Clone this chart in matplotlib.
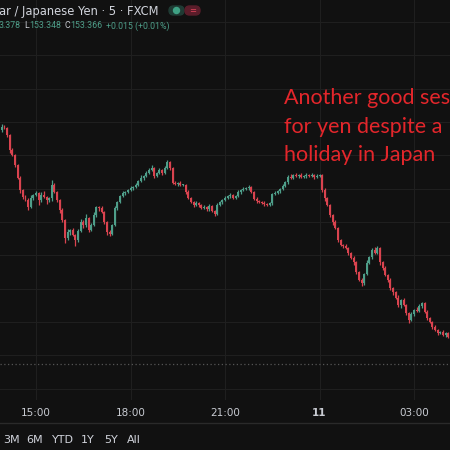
import matplotlib
matplotlib.use("Agg")
import matplotlib.pyplot as plt
from matplotlib.patches import FancyBboxPatch, Circle

# 5-minute USD/JPY closes (bar 0 is the first visible bar, 15:00 is bar 13)
closes = [
    153.985, 153.982, 153.961, 153.916, 153.901, 153.871, 153.832, 153.796, 153.775, 153.766,
    153.745, 153.772, 153.781, 153.787, 153.766, 153.781, 153.775, 153.766, 153.772, 153.811,
    153.790, 153.766, 153.736, 153.706, 153.652, 153.670, 153.676, 153.661, 153.646, 153.673,
    153.700, 153.691, 153.712, 153.676, 153.691, 153.721, 153.745, 153.742, 153.730, 153.700,
    153.670, 153.664, 153.691, 153.742, 153.760, 153.778, 153.787, 153.790, 153.796, 153.802,
    153.805, 153.811, 153.823, 153.832, 153.838, 153.847, 153.856, 153.862, 153.838, 153.847,
    153.856, 153.847, 153.862, 153.880, 153.862, 153.817, 153.814, 153.817, 153.811, 153.811,
    153.790, 153.772, 153.760, 153.751, 153.757, 153.751, 153.742, 153.745, 153.739, 153.748,
    153.733, 153.724, 153.751, 153.760, 153.766, 153.772, 153.778, 153.781, 153.772, 153.778,
    153.790, 153.796, 153.799, 153.802, 153.805, 153.790, 153.769, 153.763, 153.760, 153.757,
    153.754, 153.751, 153.757, 153.784, 153.787, 153.793, 153.799, 153.808, 153.820, 153.835,
    153.832, 153.841, 153.838, 153.841, 153.835, 153.838, 153.841, 153.838, 153.841, 153.835,
    153.838, 153.841, 153.796, 153.772, 153.751, 153.721, 153.700, 153.682, 153.646, 153.631,
    153.628, 153.622, 153.607, 153.592, 153.580, 153.550, 153.526, 153.517, 153.544, 153.577,
    153.595, 153.616, 153.607, 153.622, 153.580, 153.562, 153.541, 153.526, 153.502, 153.490,
    153.472, 153.451, 153.466, 153.451, 153.427, 153.406, 153.424, 153.436, 153.433, 153.448,
    153.457, 153.430, 153.412, 153.400, 153.385, 153.376, 153.367, 153.370, 153.361, 153.367,
    153.355, 153.340,
]
first_open = 153.976

# wick lengths above / below the body, in thousandths of a yen
wick_hi = [
    9, 6, 4, 3, 6, 3, 4, 6, 3, 5, 6, 9, 4, 6, 3, 9, 12, 4, 3, 15,
    6, 3, 4, 6, 3, 9, 4, 6, 3, 6, 9, 6, 12, 3, 6, 9, 4, 3, 6, 3,
    4, 6, 3, 6, 4, 3, 6, 4, 3, 6, 4, 6, 3, 9, 4, 6, 6, 9, 3, 4,
    6, 3, 6, 6, 3, 4, 6, 3, 6, 4, 3, 6, 3, 4, 6, 3, 4, 6, 3, 6,
    3, 4, 6, 3, 4, 6, 3, 6, 3, 4, 6, 3, 6, 4, 6, 3, 4, 6, 3, 4,
    6, 3, 4, 3, 6, 4, 3, 6, 4, 6, 9, 4, 6, 3, 6, 4, 6, 3, 6, 4,
    6, 4, 3, 6, 3, 4, 3, 6, 3, 4, 3, 6, 4, 3, 6, 3, 4, 6, 3, 9,
    4, 6, 9, 6, 3, 4, 6, 3, 6, 4, 3, 9, 4, 6, 3, 4, 6, 3, 9, 6,
    4, 3, 6, 4, 3, 6, 4, 3, 6, 3, 4, 6,
]
wick_lo = [
    6, 4, 6, 9, 3, 6, 4, 9, 6, 4, 9, 3, 6, 4, 15, 6, 3, 12, 6, 9,
    4, 6, 9, 6, 15, 6, 9, 4, 18, 6, 4, 9, 6, 6, 3, 4, 6, 9, 4, 6,
    9, 6, 4, 3, 6, 4, 3, 6, 4, 3, 6, 4, 3, 4, 6, 3, 4, 3, 6, 4,
    3, 6, 4, 3, 6, 4, 3, 6, 4, 3, 6, 4, 3, 6, 4, 6, 3, 4, 6, 6,
    4, 6, 3, 4, 6, 3, 4, 6, 3, 4, 3, 6, 3, 4, 6, 3, 4, 6, 3, 4,
    6, 3, 4, 6, 3, 4, 6, 3, 4, 6, 3, 4, 3, 6, 3, 4, 6, 3, 4, 6,
    3, 4, 6, 9, 4, 6, 9, 4, 6, 4, 6, 3, 6, 4, 9, 6, 4, 9, 6, 3,
    4, 6, 3, 4, 9, 6, 4, 6, 6, 9, 4, 6, 9, 4, 6, 9, 4, 6, 3, 4,
    6, 4, 6, 3, 6, 4, 6, 3, 4, 6, 4, 9,
]

tick_bars = [13, 49, 85, 121, 157]
tick_labels = ["15:00", "18:00", "21:00", "11", "03:00"]
ref_line = 153.274
ranges = ["3M", "6M", "YTD", "1Y", "5Y", "All"]
range_x = [12, 35, 63, 88, 111, 134]

bg = "#111111"
up_col = "#4e9e89"
dn_col = "#d9434f"
grid_col = "#1f1f1f"
txt_col = "#c9ccd3"

fig = plt.figure(figsize=(4.5, 4.5), dpi=100, facecolor=bg)
ax = fig.add_axes([0, 50 / 450, 1, 400 / 450], facecolor=bg)

opens = [first_open] + closes[:-1]
for i, (o, c) in enumerate(zip(opens, closes)):
    col = up_col if c >= o else dn_col
    hi = max(o, c) + wick_hi[i] / 1000
    lo = min(o, c) - wick_lo[i] / 1000
    ax.vlines(i, lo, hi, color=col, linewidth=0.9, zorder=3)
    h = max(abs(c - o), 0.003)
    ax.bar(i, h, bottom=min(o, c), width=0.75, color=col, linewidth=0, zorder=4)

ax.axhline(ref_line, color="#555555", linestyle=(0, (1, 2)), linewidth=0.9, zorder=2)

ax.set_xlim(-0.714, 170.71)
ax.set_ylim(153.166, 154.366)
ax.set_yticks([153.2 + 0.1 * k for k in range(12)])
ax.set_xticks(tick_bars)
ax.set_xticklabels(tick_labels)
ax.grid(True, color=grid_col, linewidth=0.8, zorder=0)
ax.tick_params(axis="x", length=0, pad=6, labelsize=7.5, labelcolor=txt_col)
ax.tick_params(axis="y", length=0, labelleft=False)
for lab in ax.get_xticklabels():
    if lab.get_text() == "11":
        lab.set_fontweight("bold")
for s in ax.spines.values():
    s.set_visible(False)


def px(x, y):
    return x / 450, 1 - y / 450


# header lines
fig.text(*px(-1, 11), "ar / Japanese Yen · 5 · FXCM", color="#d1d4dc",
         fontsize=8.3, va="center", ha="left")

renderer = fig.canvas.get_renderer()
parts = [("3.378", up_col), ("L", txt_col), ("153.348", up_col),
         ("C", txt_col), ("153.366", up_col), ("+0.015 (+0.01%)", up_col)]
gaps = [3, 0.5, 3, 0.5, 4, 0]
x = -1
for (s, col), g in zip(parts, gaps):
    t = fig.text(*px(x, 26), s, color=col, fontsize=6.3, family="Roboto",
                 va="center", ha="left")
    x += t.get_window_extent(renderer).width + g

fig.patches.append(FancyBboxPatch(px(169, 15), 15 / 450, 9 / 450,
                                  boxstyle="round,pad=0,rounding_size=0.01",
                                  transform=fig.transFigure, color="#1f3b34"))
fig.patches.append(Circle(px(176.5, 10.5), 3 / 450, transform=fig.transFigure,
                          color="#3fa184"))
fig.patches.append(FancyBboxPatch(px(185, 15), 15 / 450, 9 / 450,
                                  boxstyle="round,pad=0,rounding_size=0.01",
                                  transform=fig.transFigure, color="#5a1d2a"))
fig.text(*px(192.5, 10.5), "=", color="#e0445a", fontsize=6, ha="center", va="center")

# annotation (cut at the right edge in the original screenshot)
fig.text(*px(284, 98), "Another good ses", color="#e3262b", fontsize=15.5,
         family="Lato", va="center", ha="left")
fig.text(*px(284, 127), "for yen despite a", color="#e3262b", fontsize=15.5,
         family="Lato", va="center", ha="left")
fig.text(*px(284, 155), "holiday in Japan", color="#e3262b", fontsize=15.5,
         family="Lato", va="center", ha="left")

# bottom bar
fig.add_artist(plt.Line2D([0, 1], [1 - 423 / 450] * 2, transform=fig.transFigure,
                          color="#2a2a2a", linewidth=1))
for s, x in zip(ranges, range_x):
    fig.text(*px(x, 440), s, color="#d1d4dc", fontsize=8, ha="center", va="center")

fig.savefig("out.png", dpi=100, facecolor=bg)
